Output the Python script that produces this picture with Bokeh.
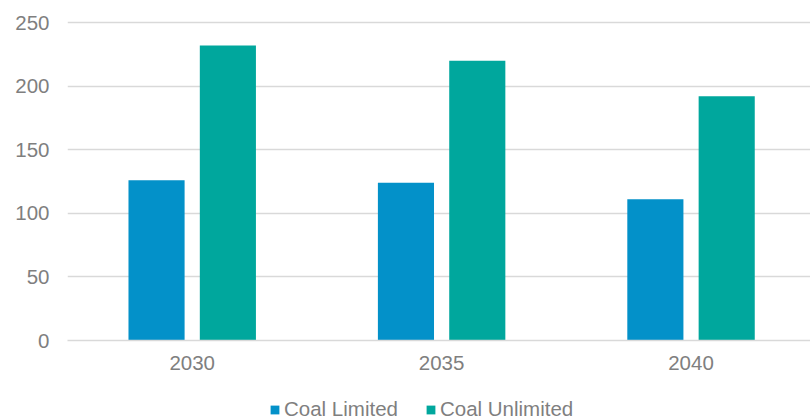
from bokeh.plotting import figure
from bokeh.layouts import column
from bokeh.models import Range1d, FixedTicker, Legend, LegendItem, ColumnDataSource
from bokeh.embed import file_html
from bokeh.resources import INLINE

# Data
years = ["2030", "2035", "2040"]
coal_limited = [126, 124, 111]
coal_unlimited = [232, 220, 192]
y_ticks = [0, 50, 100, 150, 200, 250]

series_names = ["Coal Limited", "Coal Unlimited"]
series_colors = ["#0391C9", "#00A79D"]

FONT = "Liberation Sans"
FONT_SIZE = "20.5px"
TEXT_COLOR = "#7f7f7f"
GRID_COLOR = "#d9d9d9"

# Each year occupies one unit on the x scale; bars sit either side of its centre
centers = [i + 0.5 for i in range(len(years))]
bar_w = 0.225
offset = 0.143

p = figure(
    width=810, height=378,
    x_range=Range1d(0, 2.979), y_range=Range1d(0, 251.6),
    output_backend="svg", toolbar_location=None,
    min_border_left=67, min_border_right=0, min_border_top=20, min_border_bottom=38,
)
p.outline_line_color = None
p.background_fill_color = "white"
p.border_fill_color = "white"

src_l = ColumnDataSource(dict(x=[c - offset for c in centers], top=coal_limited))
src_u = ColumnDataSource(dict(x=[c + offset for c in centers], top=coal_unlimited))
p.vbar(x="x", top="top", width=bar_w, bottom=0, source=src_l,
       fill_color=series_colors[0], line_color=None)
p.vbar(x="x", top="top", width=bar_w, bottom=0, source=src_u,
       fill_color=series_colors[1], line_color=None)

# Axes
p.xaxis.ticker = FixedTicker(ticks=centers)
p.xaxis.major_label_overrides = {c: y for c, y in zip(centers, years)}
p.xaxis.axis_line_color = GRID_COLOR
p.xaxis.axis_line_width = 1.5
p.xaxis.major_tick_line_color = None
p.xaxis.minor_tick_line_color = None
p.xaxis.major_tick_out = 0
p.xaxis.major_label_standoff = 15
p.xaxis.major_label_text_font = FONT
p.xaxis.major_label_text_font_size = FONT_SIZE
p.xaxis.major_label_text_color = TEXT_COLOR

p.yaxis.ticker = FixedTicker(ticks=y_ticks)
p.yaxis.axis_line_color = None
p.yaxis.major_tick_line_color = None
p.yaxis.minor_tick_line_color = None
p.yaxis.major_tick_out = 0
p.yaxis.major_label_standoff = 18
p.yaxis.major_label_text_font = FONT
p.yaxis.major_label_text_font_size = FONT_SIZE
p.yaxis.major_label_text_color = TEXT_COLOR

p.xgrid.grid_line_color = None
p.ygrid.grid_line_color = GRID_COLOR
p.ygrid.grid_line_width = 1.5

# Legend strip underneath the chart; its bar renderers share the chart's data
# but lie far outside this strip's ranges, so only the legend itself shows.
lg = figure(
    width=810, height=41,
    x_range=Range1d(100, 103), y_range=Range1d(1000, 1001),
    output_backend="svg", toolbar_location=None,
    min_border_left=67, min_border_right=0, min_border_top=0, min_border_bottom=0,
)
lg.axis.visible = False
lg.grid.visible = False
lg.outline_line_color = None
k_l = lg.vbar(x="x", top="top", width=bar_w, bottom=0, source=src_l,
              fill_color=series_colors[0], line_color=None)
k_u = lg.vbar(x="x", top="top", width=bar_w, bottom=0, source=src_u,
              fill_color=series_colors[1], line_color=None)

legend = Legend(
    items=[LegendItem(label=series_names[0], renderers=[k_l]),
           LegendItem(label=series_names[1], renderers=[k_u])],
    orientation="horizontal", location=(202, -2),
    glyph_width=11, glyph_height=11, label_standoff=4, spacing=27,
    padding=0, margin=0, border_line_color=None, background_fill_alpha=0,
    label_text_font=FONT, label_text_font_size=FONT_SIZE, label_text_color=TEXT_COLOR,
    label_height=20,
)
lg.add_layout(legend, "center")

layout = column(p, lg, spacing=0)
open("out.html", "w").write(file_html(layout, INLINE))
